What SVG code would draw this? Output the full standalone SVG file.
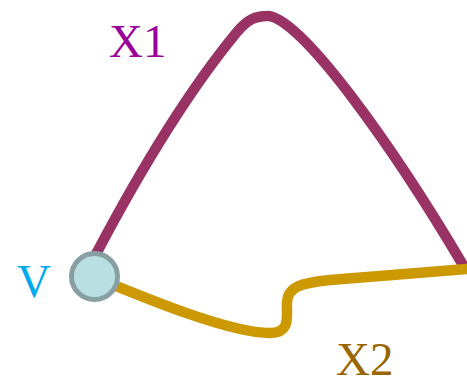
<svg xmlns="http://www.w3.org/2000/svg" width="467" height="377" viewBox="0 0 467 377">
<style>
.edge{fill:none;stroke-width:10.5;stroke-linecap:round;stroke-linejoin:round}
.lbl{font-family:"Liberation Serif","Times New Roman",serif;font-size:47px}
</style>
<rect width="467" height="377" fill="#ffffff"/>
<g id="connectors">
<path id="X1" class="edge" stroke="#993366" d="M95,256 C135,180 185,95 237,32 C248,19 256,16 267,16 C300,15 395,150 463,265"/>
<path id="X2" class="edge" stroke="#cc9900" d="M94,277 C150,300 230,333 270,333 C292,333 286,315 287,302 C288,287 300,283 330,280 L467,269"/>
</g>
<g id="node-V">
<circle cx="94.5" cy="276.5" r="23" fill="#b9dfe3" stroke="#88a0a4" stroke-width="5"/>
</g>
<text class="lbl" x="17" y="297" fill="#00aaee">V</text>
<text class="lbl" x="109" y="57" fill="#990099">X1</text>
<text class="lbl" x="336" y="375" fill="#996600">X2</text>
</svg>
